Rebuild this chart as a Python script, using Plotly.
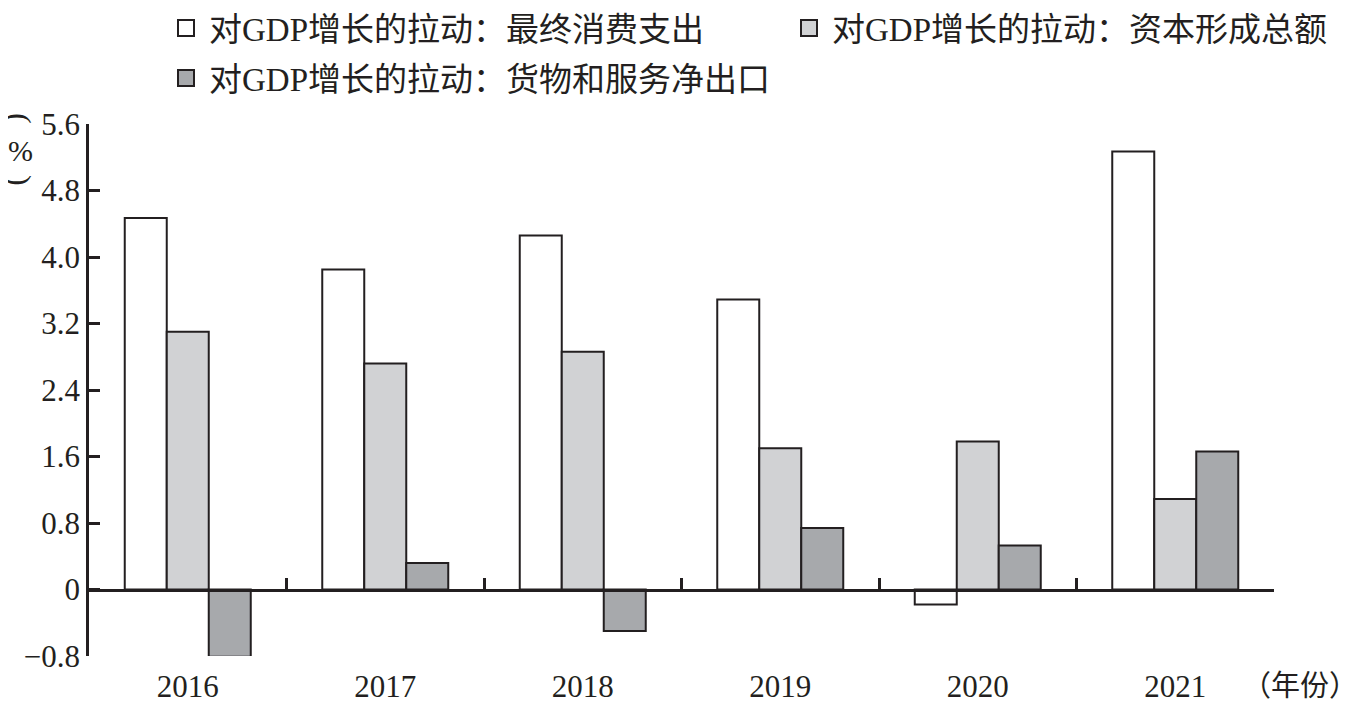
import plotly.graph_objects as go

years = ["2016", "2017", "2018", "2019", "2020", "2021"]
consumption = [4.47, 3.85, 4.26, 3.49, -0.18, 5.27]
capital = [3.10, 2.72, 2.86, 1.70, 1.78, 1.09]
net_exports = [-0.81, 0.32, -0.50, 0.74, 0.53, 1.66]

names = ["对GDP增长的拉动：最终消费支出", "对GDP增长的拉动：资本形成总额", "对GDP增长的拉动：货物和服务净出口"]
colors = ["#ffffff", "#d1d2d4", "#a7a9ac"]
y_ticks = [-0.8, 0, 0.8, 1.6, 2.4, 3.2, 4.0, 4.8, 5.6]
y_ticktext = ["−0.8", "0", "0.8", "1.6", "2.4", "3.2", "4.0", "4.8", "5.6"]
boundaries = [0.5, 1.5, 2.5, 3.5, 4.5, 5.5]

FONT = "Liberation Serif, Times New Roman, Noto Sans CJK SC, serif"
EDGE = "#231f20"

# page has an 8px body margin; figure sized to fit the window
OFF = 8
W, H = 1360 - OFF, 704 - OFF
# desired plot area on screen: x 89..1274, y 124..656
L, T = 89 - OFF, 124 - OFF
R = W - (1274 - OFF)
B = H - (656 - OFF)
PW, PH = W - L - R, H - T - B


def px(xs):
    return (xs - OFF - L) / PW


def py(ys):
    return (T + PH - (ys - OFF)) / PH


fig = go.Figure()
for name, vals, col in zip(names, [consumption, capital, net_exports], colors):
    fig.add_trace(go.Bar(x=years, y=vals, name=name, showlegend=False,
                         marker=dict(color=col, line=dict(color=EDGE, width=2))))

# legend entries (square swatches)
for name, col, lg in zip(names, colors, ["legend", "legend2", "legend3"]):
    fig.add_trace(go.Scatter(x=[None], y=[None], name=name, legend=lg, mode="markers",
                             marker=dict(symbol="square", size=16, color=col,
                                         line=dict(color=EDGE, width=2)),
                             hoverinfo="skip"))

# helper trace: axis line at y=0 with ticks at category boundaries
fig.add_trace(go.Scatter(x=[None], y=[None], xaxis="x2", yaxis="y",
                         showlegend=False, hoverinfo="skip"))

ymin, ymax = -0.8, 5.6
leg_common = dict(orientation="h", xanchor="left", yanchor="middle", itemwidth=36,
                  font=dict(size=33, family=FONT), bgcolor="rgba(0,0,0,0)")
fig.update_layout(
    width=W, height=H,
    margin=dict(l=L, r=R, t=T, b=B, autoexpand=False),
    paper_bgcolor="white", plot_bgcolor="white",
    font=dict(family=FONT, color=EDGE),
    barmode="group", bargap=0.362, bargroupgap=0,
    xaxis=dict(type="category", showline=False, ticks="", showgrid=False, zeroline=False,
               tickfont=dict(size=31, family=FONT), ticklabelstandoff=9),
    xaxis2=dict(overlaying="x", anchor="free", position=(0 - ymin) / (ymax - ymin),
                range=[-0.5, 5.5], showline=True, linecolor=EDGE, linewidth=2.5,
                ticks="inside", ticklen=11, tickwidth=2.5, tickcolor=EDGE,
                tickvals=boundaries, showticklabels=False, showgrid=False, zeroline=False),
    yaxis=dict(range=[ymin, ymax], tickvals=y_ticks, ticktext=y_ticktext,
               showline=True, linecolor=EDGE, linewidth=2.5,
               ticks="inside", ticklen=11, tickwidth=2.5, tickcolor=EDGE,
               showgrid=False, zeroline=False, tickfont=dict(size=31, family=FONT)),
    legend=dict(x=px(163), y=py(28), **leg_common),
    legend2=dict(x=px(786), y=py(28), **leg_common),
    legend3=dict(x=px(163), y=py(78), **leg_common),
    annotations=[
        dict(text="(", x=px(20), y=py(118), xref="paper", yref="paper", textangle=90,
             xanchor="center", yanchor="middle", showarrow=False,
             font=dict(size=32, family=FONT)),
        dict(text="%", x=px(20), y=py(150), xref="paper", yref="paper",
             xanchor="center", yanchor="middle", showarrow=False,
             font=dict(size=30, family=FONT)),
        dict(text=")", x=px(20), y=py(180), xref="paper", yref="paper", textangle=90,
             xanchor="center", yanchor="middle", showarrow=False,
             font=dict(size=32, family=FONT)),
        dict(text="（年份）", xref="paper", yref="paper", x=px(1300), y=py(686),
             xanchor="center", yanchor="middle", showarrow=False,
             font=dict(size=29, family=FONT)),
    ],
)

fig.write_html("out.html")
